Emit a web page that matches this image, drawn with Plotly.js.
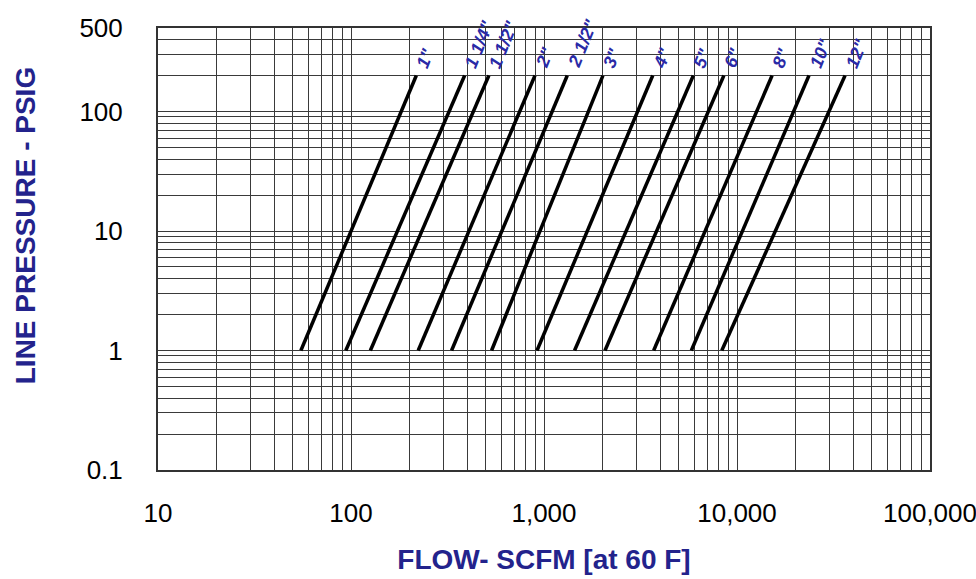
<!DOCTYPE html>
<html>
<head>
<meta charset="utf-8">
<script src="https://cdn.plot.ly/plotly-3.0.1.min.js"></script>
<style>html,body{margin:0;padding:0;background:#fff;}#chart{width:976px;height:579px;}</style>
</head>
<body>
<div id="chart"></div>
<script>
// Pipe sizes
const sizes = ['1"', '1 1/4"', '1 1/2"', '2"', '2 1/2"', '3"', '4"', '5"', '6"', '8"', '10"', '12"'];
// Line pressure (psig) at the two ends of each line
const pressureLow = 1;
const pressureHigh = 200;
// Flow (SCFM) at 1 psig for each size
const flowAtLow = [55, 94, 126, 223, 332, 535, 920, 1440, 2070, 3700, 5800, 8340];
// Flow (SCFM) at 200 psig for each size
const flowAtHigh = [218, 388, 518, 898, 1320, 2020, 3660, 5940, 8550, 15200, 23600, 36300];

// Axis ticks
const xTickVals = [10, 100, 1000, 10000, 100000];
const xTickText = ['10', '100', '1,000', '10,000', '100,000'];
const yTickVals = [0.1, 1, 10, 100, 500];
const yTickText = ['0.1', '1', '10', '100', '500'];

const xTitle = 'FLOW- SCFM [at 60 F]';
const yTitle = 'LINE PRESSURE - PSIG';

const navy = '#23238c';
const labelBlue = '#2a2aa6';
const gridCol = '#3a3a3a';
const font = 'Liberation Sans, Arial, sans-serif';

const traces = sizes.map((s, i) => ({
  type: 'scatter', mode: 'lines',
  x: [flowAtLow[i], flowAtHigh[i]],
  y: [pressureLow, pressureHigh],
  line: {color: '#000', width: 3.5},
  name: s, hoverinfo: 'skip'
}));

const annotations = sizes.map((s, i) => ({
  x: Math.log10(flowAtHigh[i]), y: Math.log10(pressureHigh),
  xref: 'x', yref: 'y',
  text: '<b><i>' + s + '</i></b>',
  showarrow: false, textangle: -68,
  xanchor: 'left', yanchor: 'bottom',
  xshift: -6, yshift: 2,
  font: {family: font, size: 18, color: labelBlue}
}));

annotations.push({
  xref: 'paper', yref: 'paper', x: -0.172, y: 0.552,
  xanchor: 'center', yanchor: 'middle',
  text: '<b>' + yTitle + '</b>', textangle: -90, showarrow: false,
  font: {family: font, size: 28, color: navy}
});

const layout = {
  width: 976, height: 579,
  margin: {l: 158, r: 46, t: 28, b: 109},
  paper_bgcolor: '#fff', plot_bgcolor: '#fff',
  showlegend: false,
  font: {family: font, color: '#000'},
  xaxis: {
    type: 'log', range: [1, 5],
    tickmode: 'array', tickvals: xTickVals, ticktext: xTickText,
    showgrid: true, gridcolor: gridCol, gridwidth: 1,
    minor: {dtick: 'D1', showgrid: true, gridcolor: gridCol, gridwidth: 1, ticks: ''},
    ticks: '', ticklabelstandoff: 19, ticklabeloverflow: 'allow',
    tickfont: {family: font, size: 26, color: '#000'},
    showline: true, linecolor: '#333', linewidth: 2, mirror: true,
    zeroline: false,
    title: {text: '<b>' + xTitle + '</b>', font: {family: font, size: 28, color: navy}, standoff: 22}
  },
  yaxis: {
    type: 'log', range: [-1, Math.log10(500)],
    tickmode: 'array', tickvals: yTickVals, ticktext: yTickText,
    showgrid: true, gridcolor: gridCol, gridwidth: 1,
    minor: {dtick: 'D1', showgrid: true, gridcolor: gridCol, gridwidth: 1, ticks: ''},
    ticks: '', ticklabelstandoff: 28, ticklabeloverflow: 'allow',
    tickfont: {family: font, size: 26, color: '#000'},
    showline: true, linecolor: '#333', linewidth: 2, mirror: true,
    zeroline: false
  },
  annotations: annotations
};

Plotly.newPlot('chart', traces, layout, {displayModeBar: false, staticPlot: true});
</script>
</body>
</html>
